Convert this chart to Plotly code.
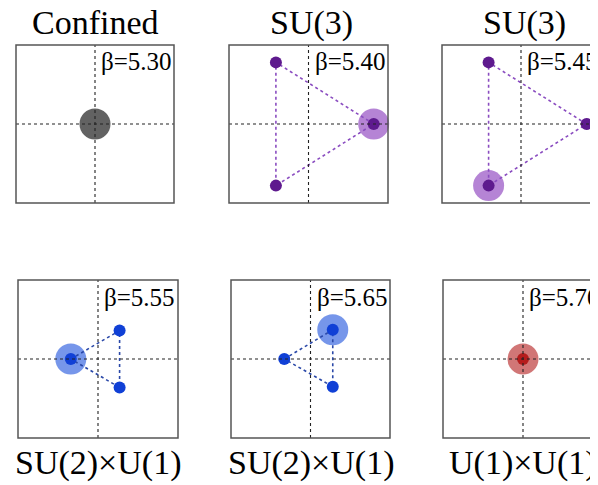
import plotly.graph_objects as go

# ---------------- data ----------------
top_titles = ["Confined", "SU(3)", "SU(3)"]
bottom_labels = ["SU(2)×U(1)", "SU(2)×U(1)", "U(1)×U(1)"]
beta_labels = ["β=5.30", "β=5.40", "β=5.45", "β=5.55", "β=5.65", "β=5.70"]

# eigenvalue positions in each panel (panel half-width = 1)
p1_x = [0.0]; p1_y = [0.0]
p2_x = [0.82, -0.41, -0.41]; p2_y = [0.0, 0.78, -0.78]
p3_x = [0.83, -0.41, -0.41]; p3_y = [0.0, 0.78, -0.78]
p4_x = [-0.34, 0.27, 0.27]; p4_y = [0.0, 0.36, -0.36]
p5_x = [-0.33, 0.28, 0.28]; p5_y = [0.0, 0.37, -0.35]
p6_x = [0.0]; p6_y = [0.0]
# index of the dominant (haloed) point
halo_idx = [0, 0, 2, 0, 1, 0]

# ---------------- styles / layout ----------------
OFF = 8  # page body margin
W, H = 598 - OFF, 485 - OFF
# panel boxes in page pixels: (left, right, top, bottom)
boxes = [(16, 174, 45, 203), (229, 388, 45, 203), (442, 600, 45, 203),
         (18, 178, 280, 438), (231, 390, 280, 438), (443, 603, 280, 438)]
boxes = [(l - OFF, r - OFF, t - OFF, b - OFF) for (l, r, t, b) in boxes]
dot_col = ["#5a5a5a", "#5e1a8e", "#5e1a8e", "#1040d6", "#1040d6", "#b51c1c"]
halo_col = ["rgba(90,90,90,0.95)", "rgba(150,80,195,0.70)", "rgba(150,80,195,0.70)",
            "rgba(60,105,225,0.70)", "rgba(60,105,225,0.70)", "rgba(190,60,60,0.70)"]
line_col = ["#000", "#8a4cc0", "#8a4cc0", "#2a48a8", "#2a48a8", "#000"]
panels = [(p1_x, p1_y), (p2_x, p2_y), (p3_x, p3_y), (p4_x, p4_y), (p5_x, p5_y), (p6_x, p6_y)]

fig = go.Figure()
layout = dict(width=W, height=H, margin=dict(l=0, r=0, t=0, b=0),
              paper_bgcolor="white", plot_bgcolor="rgba(0,0,0,0)", showlegend=False)
shapes = []
annotations = []
FONT = "Liberation Serif, Times New Roman, serif"

for i, ((L, R, T, B), (px, py)) in enumerate(zip(boxes, panels)):
    n = i + 1
    xa = "x" if n == 1 else f"x{n}"
    ya = "y" if n == 1 else f"y{n}"
    half = (R - L) / 2
    right_vis = min(R, W)
    xmax = -1 + (right_vis - L) / half
    layout["xaxis" if n == 1 else f"xaxis{n}"] = dict(
        domain=[L / W, right_vis / W], range=[-1, xmax], visible=False, anchor=ya)
    layout["yaxis" if n == 1 else f"yaxis{n}"] = dict(
        domain=[1 - B / H, 1 - T / H], range=[-1, 1], visible=False, anchor=xa)

    h = halo_idx[i]
    big = 31 if i == 0 else 31
    # halo
    fig.add_trace(go.Scatter(x=[px[h]], y=[py[h]], xaxis=xa, yaxis=ya, mode="markers",
                             marker=dict(size=big, color=halo_col[i], line=dict(width=0)),
                             hoverinfo="skip", cliponaxis=False))
    if len(px) > 1:
        fig.add_trace(go.Scatter(x=px + [px[0]], y=py + [py[0]], xaxis=xa, yaxis=ya,
                                 mode="lines", line=dict(color=line_col[i], width=1.6, dash="dot"),
                                 hoverinfo="skip"))
    if i != 0:
        fig.add_trace(go.Scatter(x=px, y=py, xaxis=xa, yaxis=ya, mode="markers",
                                 marker=dict(size=12, color=dot_col[i], line=dict(width=0)),
                                 hoverinfo="skip", cliponaxis=False))
    # crosshair
    shapes.append(dict(type="line", xref=xa, yref=ya, x0=-1, x1=1, y0=0, y1=0,
                       line=dict(color="#222", width=1.1, dash="dot"), layer="above"))
    shapes.append(dict(type="line", xref=xa, yref=ya, x0=0, x1=0, y0=-1, y1=1,
                       line=dict(color="#222", width=1.1, dash="dot"), layer="above"))
    # border
    shapes.append(dict(type="rect", xref="paper", yref="paper",
                       x0=L / W, x1=R / W, y0=1 - B / H, y1=1 - T / H,
                       line=dict(color="#555", width=1.5), fillcolor="rgba(0,0,0,0)"))
    # beta label
    cx = (L + R) / 2
    annotations.append(dict(text=beta_labels[i], xref="paper", yref="paper",
                            x=(cx + 4) / W, y=1 - (T + 17) / H, xanchor="left", yanchor="middle",
                            showarrow=False, font=dict(family=FONT, size=25, color="black")))
    # titles
    if i < 3:
        annotations.append(dict(text=top_titles[i], xref="paper", yref="paper",
                                x=(cx + (3 if i else 0)) / W, y=1 - (23 - OFF) / H,
                                xanchor="center", yanchor="middle",
                                showarrow=False, font=dict(family=FONT, size=34, color="black")))
    else:
        annotations.append(dict(text=bottom_labels[i - 3], xref="paper", yref="paper",
                                x=cx / W, y=1 - (463 - OFF) / H, xanchor="center", yanchor="middle",
                                showarrow=False, font=dict(family=FONT, size=34, color="black")))

layout["shapes"] = shapes
layout["annotations"] = annotations
fig.update_layout(**layout)
fig.write_html("out.html")
